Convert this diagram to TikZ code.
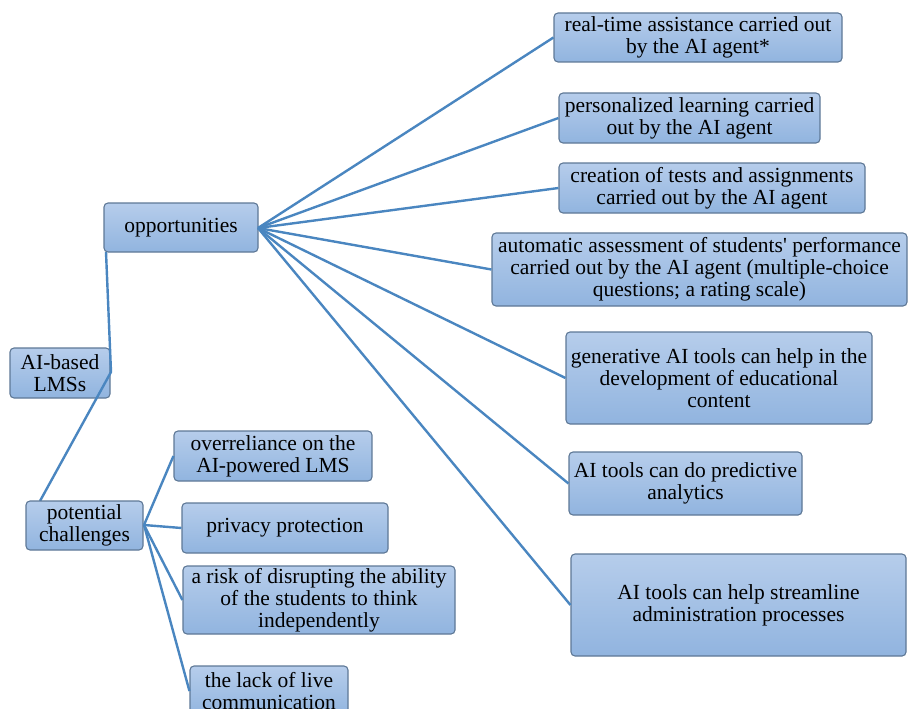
\documentclass[tikz,border=0pt]{standalone}
\usepackage{fontspec}
\setmainfont{Liberation Serif}
\begin{document}
\definecolor{boxtop}{HTML}{B6CDEB}
\definecolor{boxbot}{HTML}{91B4DF}
\definecolor{boxedge}{HTML}{5E7896}
\definecolor{link}{HTML}{4A86C0}
\tikzset{
  item/.style={draw=boxedge, line width=1.1pt, rounded corners=4pt,
    top color=boxtop, bottom color=boxbot, inner sep=0pt, align=center,
    font=\fontsize{21.5}{21.8}\selectfont},
  link/.style={draw=link, line width=2.4pt}
}
% box given by corners (x1,y1) and (x2,y2) in pixel units, y downwards
\newcommand{\mybox}[6]{%
  \node[item, minimum width=#4-#2, minimum height=#5-#3]
    (#1) at ({(#2+#4)/2},{(#3+#5)/2}) {#6};}
\begin{tikzpicture}[x=1pt,y=-1pt]
\useasboundingbox (0,0) rectangle (910,709);
\clip (0,0) rectangle (910,709);

% joints of the tree
\coordinate (hub) at (111,372);
\coordinate (oppL) at (106,252);
\coordinate (chalT) at (40,501);
\coordinate (oppR) at (258,228);
\coordinate (chalR) at (144,525);

% root box, with its two branches drawn across it
\mybox{root}{10}{348}{110}{398}{AI-based\\LMSs}
\draw[link] (oppL) -- (hub) -- (chalT);

\mybox{opp}{104}{203}{258}{252}{opportunities}
\mybox{chal}{26}{501}{143}{550}{potential\\challenges}

% opportunities
\mybox{rt}{554}{13}{842}{62}{real-time assistance carried out\\by the AI agent*}
\mybox{pl}{559}{93}{820}{143}{personalized learning carried\\out by the AI agent}
\mybox{ct}{559}{163}{865}{213}{creation of tests and assignments\\carried out by the AI agent}
\mybox{aa}{492}{233}{907}{306}{automatic assessment of students\textquotesingle{} performance\\carried out by the AI agent (multiple-choice\\questions; a rating scale)}
\mybox{ga}{566}{332}{872}{424}{generative AI tools can help in the\\development of educational\\content}
\mybox{pa}{569}{452}{802}{515}{AI tools can do predictive\\analytics}
\mybox{sa}{571}{554}{906}{656}{AI tools can help streamline\\administration processes}

% potential challenges
\mybox{ov}{174}{431}{372}{481}{overreliance on the\\AI-powered LMS}
\mybox{pp}{182}{503}{388}{553}{privacy protection}
\mybox{rk}{183}{566}{455}{634}{a risk of disrupting the ability\\of the students to think\\independently}
\mybox{lc}{190}{666}{348}{716}{the lack of live\\communication}

\foreach \n in {rt,pl,ct,aa,ga,pa,sa}{
  \draw[link] (oppR) -- (\n.west);
}
\foreach \n in {ov,pp,rk,lc}{
  \draw[link] (chalR) -- (\n.west);
}
\end{tikzpicture}
\end{document}
